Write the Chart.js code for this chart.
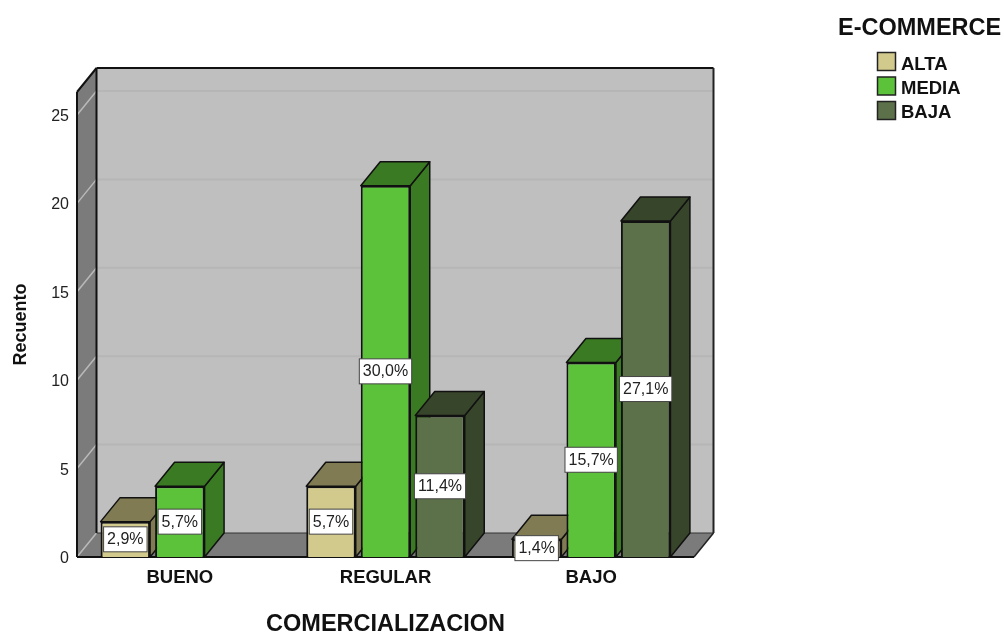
<!DOCTYPE html>
<html>
<head>
<meta charset="utf-8">
<title>E-COMMERCE por COMERCIALIZACION</title>
<script src="https://cdn.jsdelivr.net/npm/chart.js@4"></script>
<style>
  html, body { margin: 0; padding: 0; background: #fff; }
  canvas { display: block; }
</style>
</head>
<body>
<canvas id="chart" width="1004" height="633"></canvas>
<script>
// Counts per group
const categories = ['BUENO', 'REGULAR', 'BAJO'];
const alta = [2, 4, 1];
const media = [4, 21, 11];
const baja = [null, 8, 19];

// Percent labels printed on the bars
const altaLabels = ['2,9%', '5,7%', '1,4%'];
const mediaLabels = ['5,7%', '30,0%', '15,7%'];
const bajaLabels = [null, '11,4%', '27,1%'];

const yTicks = [0, 5, 10, 15, 20, 25];

const FONT = '"Liberation Sans", Arial, sans-serif';
const depthX = 19.5;  // how far the box goes right
const depthY = 24;    // how far the box goes up

function poly(ctx, pts, fill, stroke, lw) {
  ctx.beginPath();
  pts.forEach((p, i) => i ? ctx.lineTo(p[0], p[1]) : ctx.moveTo(p[0], p[1]));
  ctx.closePath();
  if (fill) { ctx.fillStyle = fill; ctx.fill(); }
  if (stroke) { ctx.strokeStyle = stroke; ctx.lineWidth = lw || 1.5; ctx.stroke(); }
}

function line(ctx, x1, y1, x2, y2, color, lw) {
  ctx.beginPath();
  ctx.moveTo(x1, y1);
  ctx.lineTo(x2, y2);
  ctx.strokeStyle = color;
  ctx.lineWidth = lw;
  ctx.stroke();
}

const boxPlugin = {
  id: 'box',
  beforeDatasetsDraw(chart) {
    const ctx = chart.ctx;
    const a = chart.chartArea;
    const y = chart.scales.y;
    ctx.save();

    // back wall, side wall, floor
    poly(ctx, [[a.left + depthX, a.top - depthY], [a.right + depthX, a.top - depthY],
               [a.right + depthX, a.bottom - depthY], [a.left + depthX, a.bottom - depthY]], '#bfbfbf');
    poly(ctx, [[a.left, a.top], [a.left + depthX, a.top - depthY],
               [a.left + depthX, a.bottom - depthY], [a.left, a.bottom]], '#7b7b7b');
    poly(ctx, [[a.left, a.bottom], [a.left + depthX, a.bottom - depthY],
               [a.right + depthX, a.bottom - depthY], [a.right, a.bottom]], '#7b7b7b');

    yTicks.forEach(t => {
      const py = y.getPixelForValue(t);
      line(ctx, a.left, py, a.left + depthX, py - depthY, '#b9b9b9', 1.5);
      if (t > 0) line(ctx, a.left + depthX, py - depthY, a.right + depthX, py - depthY, '#b6b6b6', 2);
    });

    // box outline
    line(ctx, a.left, a.top, a.left, a.bottom, '#111', 2);
    line(ctx, a.left, a.top, a.left + depthX, a.top - depthY, '#111', 2);
    line(ctx, a.left + depthX, a.top - depthY, a.right + depthX, a.top - depthY, '#111', 2);
    line(ctx, a.left + depthX, a.top - depthY, a.left + depthX, a.bottom - depthY, '#111', 2);
    line(ctx, a.right + depthX, a.top - depthY, a.right + depthX, a.bottom - depthY, '#222', 2);
    line(ctx, a.left + depthX, a.bottom - depthY, a.right + depthX, a.bottom - depthY, '#333', 1);
    line(ctx, a.right, a.bottom, a.right + depthX, a.bottom - depthY, '#222', 1.5);
    line(ctx, a.left, a.bottom, a.right, a.bottom, '#111', 2);

    // bars go left to right so each front face hides the side of its neighbour
    ctx.lineJoin = 'round';
    chart.data.datasets.forEach((ds, d) => {
      chart.getDatasetMeta(d).data.forEach((bar, i) => {
        if (ds.data[i] === null) return;
        const p = bar.getProps(['x', 'y', 'base', 'width'], true);
        const l = p.x - p.width / 2;
        const r = p.x + p.width / 2;
        poly(ctx, [[r, p.y], [r + depthX, p.y - depthY], [r + depthX, p.base - depthY], [r, p.base]], ds.shadeColor, '#111', 1.5);
        poly(ctx, [[l, p.y], [l + depthX, p.y - depthY], [r + depthX, p.y - depthY], [r, p.y]], ds.shadeColor, '#111', 1.5);
        bar.draw(ctx);
      });
    });
    ctx.restore();
  },
  // already drawn above
  beforeDatasetDraw() {
    return false;
  },
  afterDatasetsDraw(chart) {
    const ctx = chart.ctx;
    ctx.save();
    ctx.font = '16px ' + FONT;
    ctx.textAlign = 'center';
    ctx.textBaseline = 'middle';
    chart.data.datasets.forEach((ds, d) => {
      chart.getDatasetMeta(d).data.forEach((bar, i) => {
        const text = ds.percentLabels[i];
        if (!text) return;
        const p = bar.getProps(['x', 'y', 'base'], true);
        const cy = (p.y + p.base) / 2;
        const w = ctx.measureText(text).width + 7;
        const h = 25;
        ctx.fillStyle = '#fff';
        ctx.fillRect(p.x - w / 2, cy - h / 2, w, h);
        ctx.strokeStyle = '#444';
        ctx.lineWidth = 1;
        ctx.strokeRect(p.x - w / 2, cy - h / 2, w, h);
        ctx.fillStyle = '#222';
        ctx.fillText(text, p.x, cy + 0.5);
      });
    });
    ctx.restore();
  },
  // legend on the right
  afterDraw(chart) {
    const ctx = chart.ctx;
    ctx.save();
    ctx.textBaseline = 'middle';
    ctx.textAlign = 'left';
    ctx.fillStyle = '#111';
    ctx.font = 'bold 23.5px ' + FONT;
    ctx.fillText('E-COMMERCE', 838, 29);
    ctx.font = 'bold 18.5px ' + FONT;
    chart.data.datasets.forEach((ds, i) => {
      const top = 52.5 + i * 24.5;
      ctx.fillStyle = ds.backgroundColor;
      ctx.fillRect(877.5, top, 18, 18);
      ctx.strokeStyle = '#222';
      ctx.lineWidth = 1.5;
      ctx.strokeRect(877.5, top, 18, 18);
      ctx.fillStyle = '#111';
      ctx.fillText(ds.label, 901, top + 12.5 - i * 0.5);
    });
    ctx.restore();
  }
};

function makeDataset(label, data, percentLabels, color, shade) {
  return {
    label: label,
    data: data,
    percentLabels: percentLabels,
    backgroundColor: color,
    shadeColor: shade,
    borderColor: '#111',
    borderWidth: 2
  };
}

new Chart(document.getElementById('chart').getContext('2d'), {
  type: 'bar',
  data: {
    labels: categories,
    datasets: [
      makeDataset('ALTA', alta, altaLabels, '#d2ca8c', '#807b53'),
      makeDataset('MEDIA', media, mediaLabels, '#5cc23a', '#3a7a22'),
      makeDataset('BAJA', baja, bajaLabels, '#5c7049', '#37452a')
    ]
  },
  options: {
    responsive: false,
    animation: false,
    categoryPercentage: 0.795,
    barPercentage: 0.908,
    layout: { padding: { left: 0, right: 310, top: 92, bottom: 0 } },
    plugins: { legend: { display: false }, tooltip: { enabled: false } },
    scales: {
      x: {
        grid: { display: false },
        border: { display: false },
        ticks: {
          color: '#111',
          font: { family: FONT, size: 18.5, weight: 'bold' },
          padding: 2,
          maxRotation: 0
        },
        title: {
          display: true,
          text: 'COMERCIALIZACION',
          color: '#111',
          font: { family: FONT, size: 23.5, weight: 'bold' },
          padding: { top: 0, bottom: -5.5 }
        },
        afterFit(scale) { scale.height = 76; }
      },
      y: {
        min: 0,
        max: 26.3,
        grid: { display: false },
        border: { display: false },
        afterBuildTicks(scale) { scale.ticks = yTicks.map(v => ({ value: v })); },
        ticks: {
          color: '#222',
          font: { family: FONT, size: 16 },
          padding: 0,
          labelOffset: 1.5
        },
        title: {
          display: true,
          text: 'Recuento',
          color: '#111',
          font: { family: FONT, size: 18, weight: 'bold' },
          padding: { top: 10, bottom: 0 }
        },
        afterFit(scale) { scale.width = 77; }
      }
    }
  },
  plugins: [boxPlugin]
});
</script>
</body>
</html>
